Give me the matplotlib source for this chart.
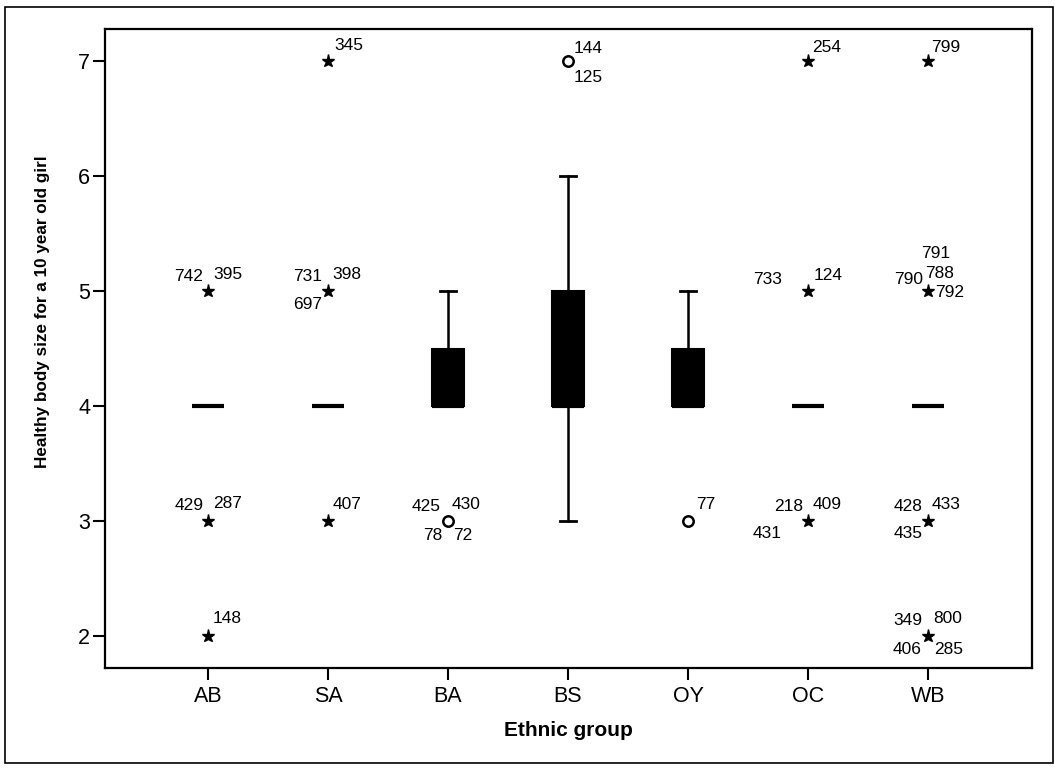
import matplotlib
matplotlib.use("Agg")
import matplotlib.pyplot as plt
from matplotlib.patches import Rectangle

plt.rcParams['font.family'] = ['Liberation Sans', 'DejaVu Sans']

# ---- data ----
groups = ['AB', 'SA', 'BA', 'BS', 'OY', 'OC', 'WB']
q1 = [4, 4, 4, 4, 4, 4, 4]
medians = [4, 4, 4, 4, 4, 4, 4]
q3 = [4, 4, 4.5, 5, 4.5, 4, 4]
whisker_low = [4, 4, 4, 3, 4, 4, 4]
whisker_high = [4, 4, 5, 6, 5, 4, 4]

outlier_group = ['AB', 'AB', 'AB', 'SA', 'SA', 'SA', 'BA', 'BS', 'OY',
                 'OC', 'OC', 'OC', 'WB', 'WB', 'WB', 'WB']
outlier_value = [5, 3, 2, 7, 5, 3, 3, 7, 3, 7, 5, 3, 7, 5, 3, 2]
outlier_kind = ['extreme', 'extreme', 'extreme', 'extreme', 'extreme', 'extreme',
                'outlier', 'outlier', 'outlier',
                'extreme', 'extreme', 'extreme', 'extreme', 'extreme', 'extreme', 'extreme']
outlier_cases = [['742', '395'], ['429', '287'], ['148'],
                 ['345'], ['731', '398', '697'], ['407'],
                 ['425', '430', '78', '72'],
                 ['144', '125'],
                 ['77'],
                 ['254'], ['733', '124'], ['218', '409', '431'],
                 ['799'], ['791', '790', '788', '792'], ['428', '433', '435'],
                 ['349', '800', '406', '285']]

# label placement (pixel offsets from the marker, alignment)
label_layout = {
    '742': (-5, 16, 'right'), '395': (5, 18, 'left'),
    '429': (-4, 16, 'right'), '287': (5, 18, 'left'),
    '148': (5, 18, 'left'),
    '345': (6, 17, 'left'),
    '731': (-6, 16, 'right'), '398': (4, 18, 'left'), '697': (-6, -12, 'right'),
    '407': (5, 17, 'left'),
    '425': (-7, 15, 'right'), '430': (4, 17, 'left'), '78': (-6, -14, 'right'), '72': (5, -14, 'left'),
    '144': (6, 14, 'left'), '125': (6, -15, 'left'),
    '77': (8, 17, 'left'),
    '254': (4, 15, 'left'),
    '733': (-26, 13, 'right'), '124': (6, 17, 'left'),
    '218': (-5, 15, 'right'), '409': (5, 17, 'left'), '431': (-26, -12, 'right'),
    '799': (3, 15, 'left'),
    '791': (-7, 39, 'left'), '790': (-5, 13, 'right'), '788': (-3, 19, 'left'), '792': (7, 0, 'left'),
    '428': (-5, 15, 'right'), '433': (4, 17, 'left'), '435': (-5, -12, 'right'),
    '349': (-6, 16, 'right'), '800': (5, 18, 'left'), '406': (-6, -13, 'right'), '285': (6, -13, 'left'),
}

W, H = 1055, 768
fig = plt.figure(figsize=(W / 100, H / 100), dpi=100)
ax = fig.add_axes([105 / W, 1 - 668 / H, (1032 - 105) / W, (668 - 29) / H])

positions = list(range(1, len(groups) + 1))
stats = []
for i, g in enumerate(groups):
    stats.append(dict(label=g, med=medians[i], q1=q1[i], q3=q3[i],
                      whislo=whisker_low[i], whishi=whisker_high[i], fliers=[]))

ax.bxp(stats, positions=positions, widths=0.27, capwidths=0.13, patch_artist=True,
       showfliers=False,
       boxprops=dict(facecolor='black', edgecolor='black', linewidth=1.5),
       medianprops=dict(color='black', linewidth=3, solid_capstyle='butt'),
       whiskerprops=dict(color='black', linewidth=1.8),
       capprops=dict(color='black', linewidth=2))

for g, v, kind, cases in zip(outlier_group, outlier_value, outlier_kind, outlier_cases):
    x = positions[groups.index(g)]
    if kind == 'extreme':
        ax.plot([x], [v], marker='*', ms=9.5, color='black', mec='black', linestyle='none')
    else:
        ax.plot([x], [v], marker='o', ms=7.5, mfc='white', mec='black', mew=1.8, linestyle='none')
    for c in cases:
        dx, dy, ha = label_layout[c]
        ax.annotate(c, xy=(x, v), xytext=(dx, dy - 1), textcoords='offset pixels',
                    ha=ha, va='center', fontsize=12.5, color='black')

ax.set_xlim(0.142, 7.867)
ax.set_ylim(1.72, 7.28)
ax.set_yticks([2, 3, 4, 5, 6, 7])
ax.set_xticks(positions)
ax.set_xticklabels(groups)
for s in ax.spines.values():
    s.set_linewidth(1.6)
ax.tick_params(axis='both', direction='out', length=8.6, width=1.5, labelsize=15.5, colors='black')
ax.tick_params(axis='x', pad=4)
ax.tick_params(axis='y', pad=2)

ax.set_xlabel('Ethnic group', fontsize=15, fontweight='bold', va='center')
ax.xaxis.set_label_coords(0.5, (668 - 731) / (668 - 29))
ax.set_ylabel('Healthy body size for a 10 year old girl', fontsize=12.3,
              fontweight='bold', va='center')
ax.yaxis.set_label_coords((43 - 105) / (1032 - 105), (668 - 312) / (668 - 29))

fig.patches.append(Rectangle((5 / W, 1 - 763 / H), (1053 - 5) / W, (763 - 7) / H,
                             transform=fig.transFigure, fill=False,
                             edgecolor='black', linewidth=1.2))

fig.savefig('out.png', dpi=100)
